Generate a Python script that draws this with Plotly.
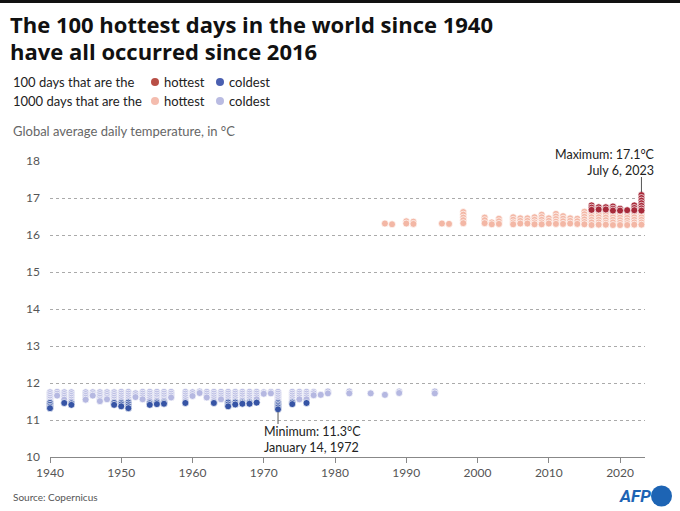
import plotly.graph_objects as go

# ---------------- data ----------------
cold1000_years = [1940, 1941, 1942, 1943, 1945, 1946, 1947, 1948, 1949, 1950, 1951, 1952,
                  1953, 1954, 1955, 1956, 1957, 1959, 1960, 1961, 1962, 1963, 1964, 1965,
                  1966, 1967, 1968, 1969, 1970, 1971, 1972, 1974, 1975, 1976, 1977, 1978,
                  1979, 1982, 1985, 1987, 1989, 1994]
cold1000_temps = [
    [11.75, 11.70, 11.65, 11.60, 11.55, 11.50],
    [11.76, 11.71, 11.66],
    [11.75, 11.70, 11.65, 11.60, 11.55],
    [11.75, 11.70, 11.65, 11.60, 11.55, 11.50],
    [11.75, 11.70, 11.65, 11.60, 11.55],
    [11.75, 11.70, 11.66],
    [11.75, 11.70, 11.65, 11.60, 11.55, 11.51],
    [11.75, 11.70, 11.65, 11.60, 11.56],
    [11.75, 11.70, 11.65, 11.60, 11.55, 11.50],
    [11.76, 11.71, 11.66, 11.61, 11.56, 11.51],
    [11.76, 11.71, 11.66, 11.61, 11.56, 11.51],
    [11.72, 11.67, 11.62],
    [11.76, 11.71, 11.66, 11.61, 11.56],
    [11.76, 11.71, 11.66, 11.61, 11.56, 11.51],
    [11.76, 11.71, 11.66, 11.61, 11.56, 11.52],
    [11.76, 11.71, 11.66, 11.61, 11.56, 11.52],
    [11.76, 11.71, 11.66, 11.61],
    [11.76, 11.71, 11.66, 11.61, 11.56, 11.51],
    [11.75, 11.70, 11.65],
    [11.77, 11.73],
    [11.76, 11.71, 11.66, 11.61],
    [11.76, 11.71, 11.66, 11.61, 11.56, 11.51],
    [11.76, 11.71, 11.66, 11.61, 11.56],
    [11.76, 11.71, 11.66, 11.61, 11.56, 11.51],
    [11.76, 11.71, 11.66, 11.61, 11.56, 11.51],
    [11.76, 11.71, 11.66, 11.61, 11.56, 11.52],
    [11.76, 11.71, 11.66, 11.61, 11.56, 11.51],
    [11.76, 11.71, 11.66, 11.61, 11.56],
    [11.75, 11.71],
    [11.76, 11.72],
    [11.76, 11.71, 11.66, 11.61, 11.56, 11.51],
    [11.76, 11.71, 11.66, 11.61, 11.56, 11.51],
    [11.76, 11.71, 11.66, 11.61, 11.56],
    [11.76, 11.71, 11.66, 11.61, 11.56],
    [11.76, 11.72, 11.67],
    [11.68],
    [11.77, 11.72],
    [11.77, 11.72],
    [11.72],
    [11.68],
    [11.77, 11.73],
    [11.77, 11.72],
]

cold100_years = [1940, 1942, 1943, 1949, 1950, 1951, 1954, 1955, 1956, 1959, 1963,
                 1965, 1966, 1967, 1968, 1969, 1972, 1974, 1976]
cold100_temps = [
    [11.46, 11.41, 11.36, 11.32],
    [11.46],
    [11.45, 11.41],
    [11.46, 11.41],
    [11.46, 11.42, 11.37],
    [11.47, 11.42, 11.37, 11.32],
    [11.45, 11.41],
    [11.47, 11.43],
    [11.47, 11.44],
    [11.46],
    [11.46],
    [11.47, 11.42, 11.37],
    [11.47, 11.42],
    [11.47, 11.44],
    [11.47, 11.44],
    [11.47],
    [11.46, 11.42, 11.38, 11.34, 11.29],
    [11.47, 11.43],
    [11.46],
]

hot1000_years = [1987, 1988, 1990, 1991, 1995, 1996, 1998, 2001, 2002, 2003, 2005, 2006,
                 2007, 2008, 2009, 2010, 2011, 2012, 2013, 2014, 2015, 2016, 2017, 2018,
                 2019, 2020, 2021, 2022, 2023]
hot1000_temps = [
    [16.31],
    [16.29],
    [16.37, 16.31],
    [16.36, 16.30],
    [16.31],
    [16.30],
    [16.62, 16.55, 16.47, 16.40, 16.32],
    [16.47, 16.40, 16.32],
    [16.34, 16.29],
    [16.44, 16.37, 16.30],
    [16.48, 16.41, 16.34, 16.29],
    [16.45, 16.38, 16.31],
    [16.45, 16.38, 16.31],
    [16.48, 16.41, 16.34, 16.29],
    [16.55, 16.48, 16.41, 16.34, 16.29],
    [16.45, 16.38, 16.31],
    [16.57, 16.50, 16.43, 16.36, 16.30],
    [16.51, 16.44, 16.37, 16.30],
    [16.45, 16.38, 16.31],
    [16.44, 16.37, 16.30],
    [16.63, 16.56, 16.49, 16.42, 16.35, 16.29],
    [16.62, 16.55, 16.48, 16.41, 16.34, 16.27],
    [16.62, 16.55, 16.48, 16.41, 16.34, 16.28],
    [16.61, 16.54, 16.47, 16.40, 16.33, 16.28],
    [16.62, 16.55, 16.48, 16.41, 16.34, 16.27],
    [16.61, 16.54, 16.47, 16.40, 16.33, 16.27],
    [16.60, 16.53, 16.46, 16.39, 16.32, 16.27],
    [16.62, 16.55, 16.48, 16.41, 16.34, 16.28],
    [16.62, 16.55, 16.48, 16.41, 16.34, 16.28],
]

hot100_years = [2016, 2017, 2018, 2019, 2020, 2021, 2022, 2023]
hot100_temps = [
    [16.80, 16.74, 16.68],
    [16.75, 16.69],
    [16.75, 16.69],
    [16.77, 16.71, 16.66],
    [16.71, 16.66],
    [16.67],
    [16.80, 16.73, 16.67],
    [17.08, 17.00, 16.93, 16.86, 16.79, 16.72, 16.66],
]

y_ticks = [10, 11, 12, 13, 14, 15, 16, 17, 18]
x_ticks = [1940, 1950, 1960, 1970, 1980, 1990, 2000, 2010, 2020]

# ---------------- layout helpers ----------------
W, H = 680, 511
L, R, T, B = 50, 35, 161, 54
PW, PH = W - L - R, H - T - B


def px(x):
    return (x - L) / PW


def py(y):
    return (H - B - y) / PH


def flatten(years, temps):
    xs, ys = [], []
    for yr, vals in zip(years, temps):
        for v in vals:
            xs.append(yr)
            ys.append(v)
    return xs, ys


FONT = "Lato"
TITLE_FONT = "Open Sans"
C_HOT100 = "#a82a3a"
C_HOT1000 = "#f3b7a5"
C_COLD100 = "#3654a5"
C_COLD1000 = "#b5b8e1"

fig = go.Figure()
for years, temps, color in [
    (cold1000_years, cold1000_temps, C_COLD1000),
    (hot1000_years, hot1000_temps, C_HOT1000),
    (cold100_years, cold100_temps, C_COLD100),
    (hot100_years, hot100_temps, C_HOT100),
]:
    xs, ys = flatten(years, temps)
    fig.add_trace(go.Scatter(
        x=xs, y=ys, mode="markers", cliponaxis=False, showlegend=False,
        marker=dict(size=7, color=color, line=dict(color="white", width=0.7)),
        hoverinfo="x+y",
    ))

annotations = []
shapes = []

# title
annotations.append(dict(text="<b>The 100 hottest days in the world since 1940</b>",
                        x=px(8), y=py(24), xref="paper", yref="paper",
                        xanchor="left", yanchor="middle", showarrow=False,
                        font=dict(family=TITLE_FONT, size=22, color="#111")))
annotations.append(dict(text="<b>have all occurred since 2016</b>",
                        x=px(8), y=py(50.5), xref="paper", yref="paper",
                        xanchor="left", yanchor="middle", showarrow=False,
                        font=dict(family=TITLE_FONT, size=22, color="#111")))

# legend
for row_y, label, c_hot, c_cold in [
    (82, "100 days that are the", "#b84f46", "#4a5fb0"),
    (101, "1000 days that are the", "#f4bcae", "#b9bbe2"),
]:
    annotations.append(dict(text=label, x=px(11), y=py(row_y), xref="paper", yref="paper",
                            xanchor="left", yanchor="middle", showarrow=False,
                            font=dict(family=FONT, size=13, color="#222")))
    for cx, col, txt in [(155, c_hot, "hottest"), (220, c_cold, "coldest")]:
        shapes.append(dict(type="circle", xref="paper", yref="paper",
                           x0=px(cx - 4), x1=px(cx + 4), y0=py(row_y + 4), y1=py(row_y - 4),
                           fillcolor=col, line=dict(width=0)))
        annotations.append(dict(text=txt, x=px(cx + 7), y=py(row_y), xref="paper", yref="paper",
                                xanchor="left", yanchor="middle", showarrow=False,
                                font=dict(family=FONT, size=13, color="#222")))

# subtitle
annotations.append(dict(text="Global average daily temperature, in °C", x=px(11), y=py(131),
                        xref="paper", yref="paper", xanchor="left", yanchor="middle",
                        showarrow=False, font=dict(family=FONT, size=13, color="#666")))

# max / min annotations
annotations.append(dict(text="Maximum: 17.1°C<br>July 6, 2023", x=px(657), y=py(162),
                        xref="paper", yref="paper", align="right",
                        xanchor="right", yanchor="middle", showarrow=False,
                        font=dict(family=FONT, size=12.5, color="#222")))
shapes.append(dict(type="line", xref="x", yref="paper", x0=2023, x1=2023,
                   y0=py(177), y1=py(192), line=dict(color="#555", width=1)))

annotations.append(dict(text="Minimum: 11.3°C<br>January 14, 1972", x=px(262), y=py(439.5),
                        xref="paper", yref="paper", align="left",
                        xanchor="left", yanchor="middle", showarrow=False,
                        font=dict(family=FONT, size=12.5, color="#222")))
shapes.append(dict(type="line", xref="x", yref="paper", x0=1972, x1=1972,
                   y0=py(412), y1=py(424), line=dict(color="#555", width=1)))

# source + logo
annotations.append(dict(text="Source: Copernicus", x=px(11), y=py(497), xref="paper", yref="paper",
                        xanchor="left", yanchor="middle", showarrow=False,
                        font=dict(family=FONT, size=10, color="#555")))
annotations.append(dict(text="<b><i>AFP</i></b>", x=px(653), y=py(496), xref="paper", yref="paper",
                        xanchor="right", yanchor="middle", showarrow=False,
                        font=dict(family="Roboto", size=17, color="#1d64b4")))
shapes.append(dict(type="circle", xref="paper", yref="paper",
                   x0=px(651), x1=px(672), y0=py(506.5), y1=py(485.5),
                   fillcolor="#1d64b4", line=dict(width=0)))

# top black rule
shapes.append(dict(type="rect", xref="paper", yref="paper",
                   x0=px(0), x1=px(W), y0=py(3), y1=py(0),
                   fillcolor="#111", line=dict(width=0), layer="above"))

fig.update_layout(
    width=W, height=H,
    margin=dict(l=L, r=R, t=T, b=B, pad=0),
    paper_bgcolor="white", plot_bgcolor="white",
    font=dict(family=FONT, color="#555", size=12),
    annotations=annotations, shapes=shapes,
    xaxis=dict(range=[1940, 2023.5], tickvals=x_ticks, showgrid=False, zeroline=False,
               showline=True, linecolor="#888", linewidth=1,
               ticks="outside", ticklen=5, tickcolor="#888",
               tickfont=dict(family=FONT, size=12, color="#555")),
    yaxis=dict(range=[10, 18], tickvals=y_ticks, showgrid=True, gridcolor="#aaa",
               griddash="dot", gridwidth=1, zeroline=False, showline=False,
               ticks="", ticklabelstandoff=9,
               tickfont=dict(family=FONT, size=12, color="#555")),
    hovermode="closest",
)

fig.write_html("out.html", config={"displayModeBar": False},
               post_script="document.body.style.margin='0';document.body.style.overflow='hidden';")
